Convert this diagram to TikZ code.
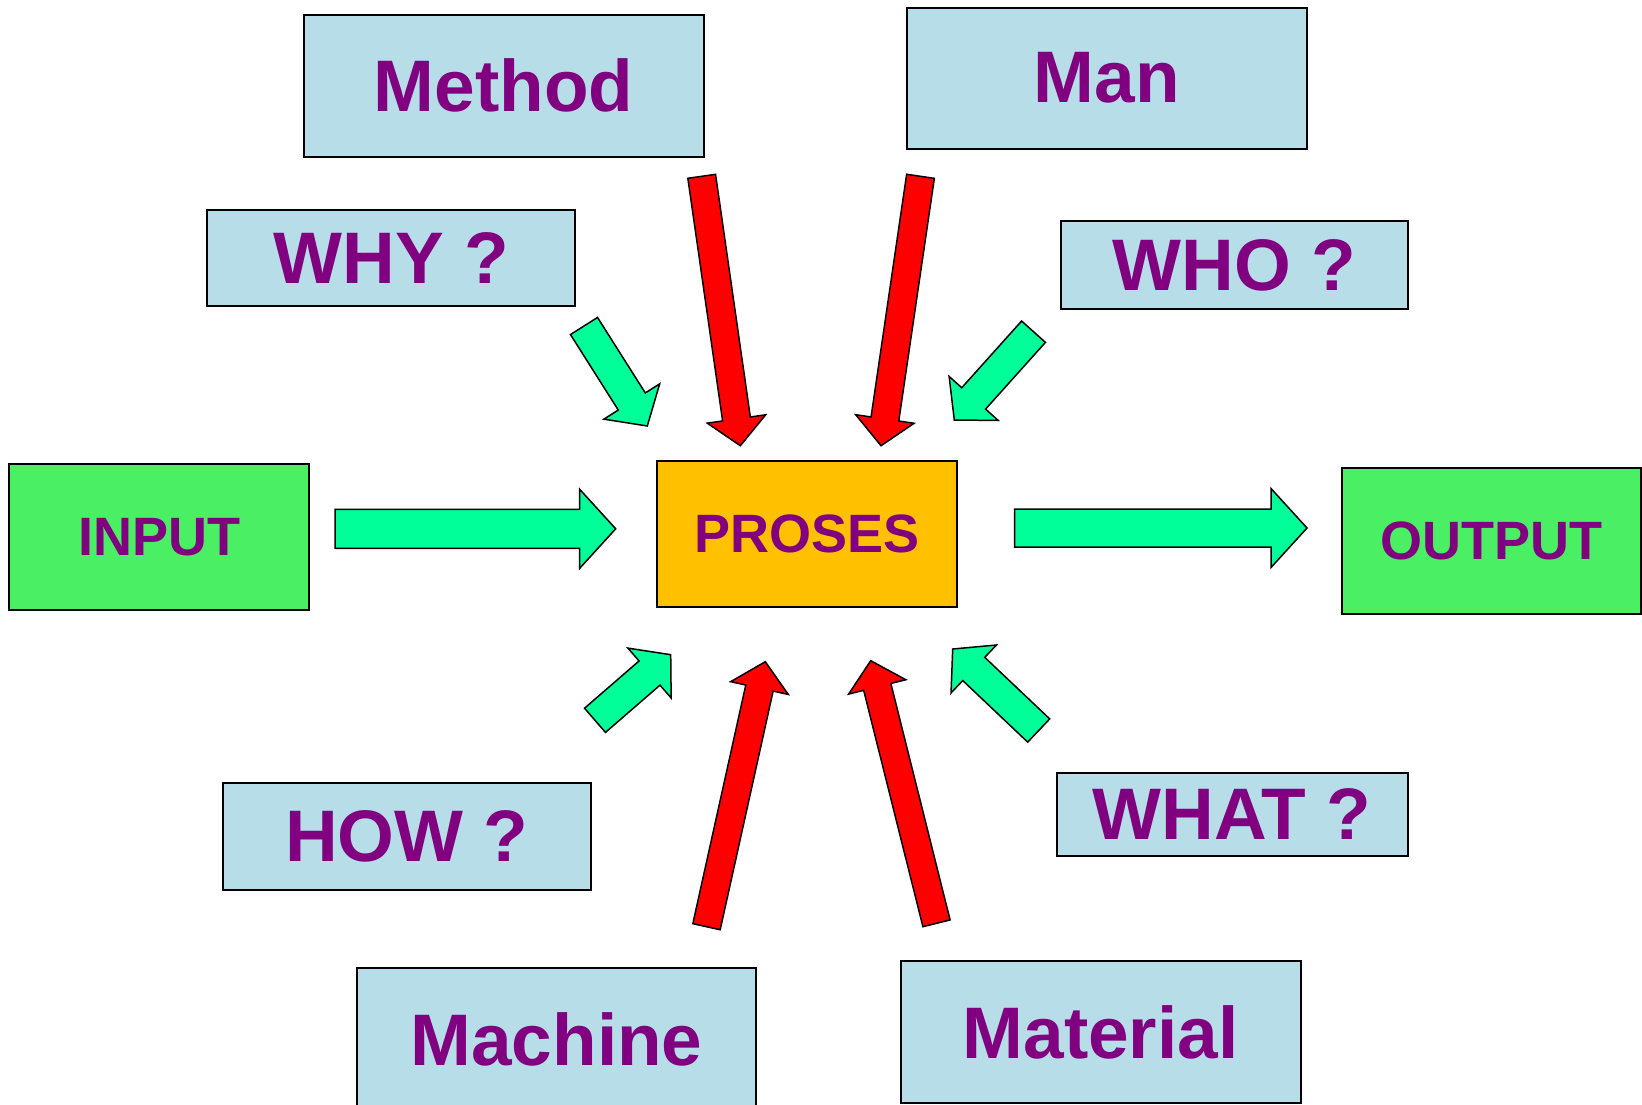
\documentclass[tikz,border=0pt]{standalone}
\usepackage{fontspec}
\setmainfont{Liberation Sans}
\usepackage{xcolor}
\usepackage{tikz}
\usetikzlibrary{calc}

\definecolor{boxblue}{HTML}{B7DDE8}
\definecolor{boxgreen}{HTML}{4BEF63}
\definecolor{arrgreen}{HTML}{00FF99}
\definecolor{boxorange}{HTML}{FFC000}
\definecolor{txtpurple}{HTML}{800080}

% block arrow: style, tail, tip, half shaft, half head, head length
\newcommand{\blockarrow}[6]{%
  \coordinate (neck) at ($(#3)!#6!(#2)$);
  \filldraw[#1] ($(#2)!#4!90:(#3)$) -- ($(neck)!#4!90:(#3)$) -- ($(neck)!#5!90:(#3)$)
    -- (#3) -- ($(neck)!#5!-90:(#3)$) -- ($(neck)!#4!-90:(#3)$) -- ($(#2)!#4!-90:(#3)$) -- cycle;}

\begin{document}
\begin{tikzpicture}[x=1pt, y=-1pt,
  box/.style={draw=black, line width=2pt, fill=boxblue, text=txtpurple, inner sep=0pt,
    font=\fontsize{73}{80}\selectfont\bfseries},
  iobox/.style={box, fill=boxgreen, font=\fontsize{54}{60}\selectfont\bfseries},
  redarrow/.style={fill=red, draw=black, line width=1.5pt},
  greenarrow/.style={fill=arrgreen, draw=black, line width=1.5pt}]
\useasboundingbox (0,0) rectangle (1642,1104);

\node[box, minimum width=400pt, minimum height=142pt] (method) at (503.7,85.9) {Method};
\node[box, minimum width=400pt, minimum height=141pt] (man) at (1106.9,78) {Man};
\node[box, minimum width=368pt, minimum height=96pt] (why) at (391.1,257.6) {WHY ?};
\node[box, minimum width=347pt, minimum height=88pt] (who) at (1234.1,265) {WHO ?};
\node[iobox, minimum width=300pt, minimum height=146pt] (input) at (159.2,536.7) {INPUT};
\node[iobox, fill=boxorange, minimum width=300pt, minimum height=146pt] (proses) at (807.4,533.6) {PROSES};
\node[iobox, minimum width=299pt, minimum height=146pt] (output) at (1491.8,540.9) {OUTPUT};
\node[box, minimum width=368pt, minimum height=107pt] (how) at (406.8,836.7) {HOW ?};
\node[box, minimum width=351pt, minimum height=83pt] (what) at (1232,814.2) {WHAT ?};
\node[box, minimum width=399pt, minimum height=144pt] (machine) at (556.5,1039.8) {Machine};
\node[box, minimum width=400pt, minimum height=142pt] (material) at (1100.6,1032.2) {Material};

% arrow ends
\coordinate (method-t) at (701.7,176.3);
\coordinate (method-h) at (740.3,445.7);
\coordinate (man-t) at (920.5,176.3);
\coordinate (man-h) at (881,445.7);
\coordinate (machine-t) at (706.5,926.7);
\coordinate (machine-h) at (765.3,661.7);
\coordinate (material-t) at (936.5,923.3);
\coordinate (material-h) at (870.7,660.7);
\coordinate (why-t) at (584,326);
\coordinate (why-h) at (647.3,426);
\coordinate (who-t) at (1033.5,331.7);
\coordinate (who-h) at (954.3,420);
\coordinate (how-t) at (595,720.3);
\coordinate (how-h) at (670.7,654.7);
\coordinate (what-t) at (1038.7,730.5);
\coordinate (what-h) at (952.7,649);
\coordinate (input-t) at (335,528.8);
\coordinate (input-h) at (615.7,528.8);
\coordinate (output-t) at (1014.7,528);
\coordinate (output-h) at (1307,528);

\blockarrow{redarrow}{method-t}{method-h}{14pt}{29.5pt}{27pt}
\blockarrow{redarrow}{man-t}{man-h}{14pt}{29.5pt}{27pt}
\blockarrow{redarrow}{machine-t}{machine-h}{14pt}{29.5pt}{27pt}
\blockarrow{redarrow}{material-t}{material-h}{14pt}{29.5pt}{27pt}
\blockarrow{greenarrow}{why-t}{why-h}{16pt}{33pt}{29pt}
\blockarrow{greenarrow}{who-t}{who-h}{16pt}{33pt}{29pt}
\blockarrow{greenarrow}{how-t}{how-h}{16pt}{33pt}{28pt}
\blockarrow{greenarrow}{what-t}{what-h}{16pt}{33pt}{29pt}
\blockarrow{greenarrow}{input-t}{input-h}{19.5pt}{39.5pt}{36pt}
\blockarrow{greenarrow}{output-t}{output-h}{19pt}{39.5pt}{36pt}
\end{tikzpicture}
\end{document}
